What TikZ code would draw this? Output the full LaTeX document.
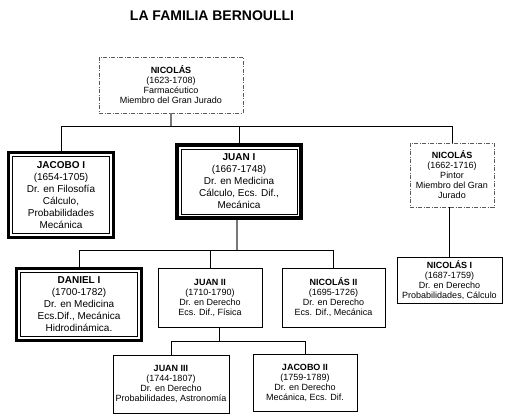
\documentclass[tikz,border=0pt]{standalone}
\usepackage{fontspec}
\setmainfont{Liberation Sans}
\usetikzlibrary{positioning, calc}
\definecolor{LinkGray}{RGB}{120,120,120}
\definecolor{DashGray}{RGB}{90,90,90}

\begin{document}
\begin{tikzpicture}[x=1pt, y=-1pt,
    pers/.style={draw, line width=0.8pt, align=center, inner sep=1pt,
               font=\fontsize{9}{10}\selectfont},
    ddot/.style={pers, draw=DashGray,
               dash pattern=on 4pt off 1.5pt on 1pt off 1.5pt},
    big/.style={draw, line width=3pt, align=center, inner sep=3pt,
               font=\fontsize{10}{12}\selectfont,
               path picture={\draw[line width=0.8pt]
                 ([shift={(4pt,4pt)}]path picture bounding box.south west) rectangle
                 ([shift={(-4pt,-4pt)}]path picture bounding box.north east);}},
    lnk/.style={draw, line width=0.8pt},
    glnk/.style={draw=LinkGray, line width=1.3pt}
  ]
    \useasboundingbox (0,0) rectangle (509,420);
    \node[font=\fontsize{14}{16}\selectfont\bfseries] (title) at (212,16) {LA FAMILIA BERNOULLI};
    % generation 1
    \node[ddot, minimum width=144, minimum height=56] (nic0) at (171,85)
      {\textbf{NICOLÁS}\\(1623-1708)\\Farmacéutico\\Miembro del Gran Jurado};
    % generation 2
    \node[big, minimum width=105, minimum height=85] (jac1) at (61,195)
      {\textbf{JACOBO I}\\(1654-1705)\\Dr. en Filosofía\\Cálculo,\\Probabilidades\\Mecánica};
    \node[big, line width=4pt, minimum width=124, minimum height=73] (juan1) at (239,181.5)
      {\textbf{JUAN I}\\(1667-1748)\\Dr. en Medicina\\Cálculo, Ecs. Dif.,\\Mecánica};
    \node[ddot, minimum width=84, minimum height=64] (nic1) at (452,175)
      {\textbf{NICOLÁS}\\(1662-1716)\\Pintor\\Miembro del Gran\\Jurado};
    % generation 3
    \node[big, minimum width=125, minimum height=72] (dan1) at (79,304.5)
      {\textbf{DANIEL I}\\(1700-1782)\\Dr. en Medicina\\Ecs.Dif., Mecánica\\Hidrodinámica.};
    \node[pers, minimum width=104, minimum height=59] (juan2) at (210,297.5)
      {\textbf{JUAN II}\\(1710-1790)\\Dr. en Derecho\\Ecs. Dif., Física};
    \node[pers, minimum width=103, minimum height=59] (nic2) at (333.5,297.5)
      {\textbf{NICOLÁS II}\\(1695-1726)\\Dr. en Derecho\\Ecs. Dif., Mecánica};
    \node[pers, minimum width=105, minimum height=46] (nicI) at (449.5,280)
      {\textbf{NICOLÁS I}\\(1687-1759)\\Dr. en Derecho\\Probabilidades, Cálculo};
    % generation 4
    \node[pers, minimum width=116, minimum height=58] (juan3) at (171,384)
      {\textbf{JUAN III}\\(1744-1807)\\Dr. en Derecho\\Probabilidades, Astronomía};
    \node[pers, minimum width=104, minimum height=57] (jac2) at (305,382.5)
      {\textbf{JACOBO II}\\(1759-1789)\\Dr. en Derecho\\Mecánica, Ecs. Dif.};
    % connectors
    \coordinate (k1) at (171,126);
    \coordinate (k2) at (237,250);
    \coordinate (k3) at (219,341);
    \draw[glnk] (nic0.south) -- (k1);
    \draw[lnk] (k1) -| (jac1.north);
    \draw[lnk] (k1) -| (nic1.north);
    \draw[lnk] (k1 -| juan1.north) -- (juan1.north);
    \draw[glnk] (juan1.south -| k2) -- (k2);
    \draw[lnk] (k2) -| (dan1.north);
    \draw[lnk] (k2) -| (nic2.north);
    \draw[lnk] (k2 -| juan2.north) -- (juan2.north);
    \draw[lnk] (nic1.south -| nicI.north) -- (nicI.north);
    \draw[lnk] (juan2.south -| k3) -- (k3);
    \draw[lnk] (k3) -| (juan3.north);
    \draw[lnk] (k3) -| (jac2.north);
  \end{tikzpicture}
\end{document}
